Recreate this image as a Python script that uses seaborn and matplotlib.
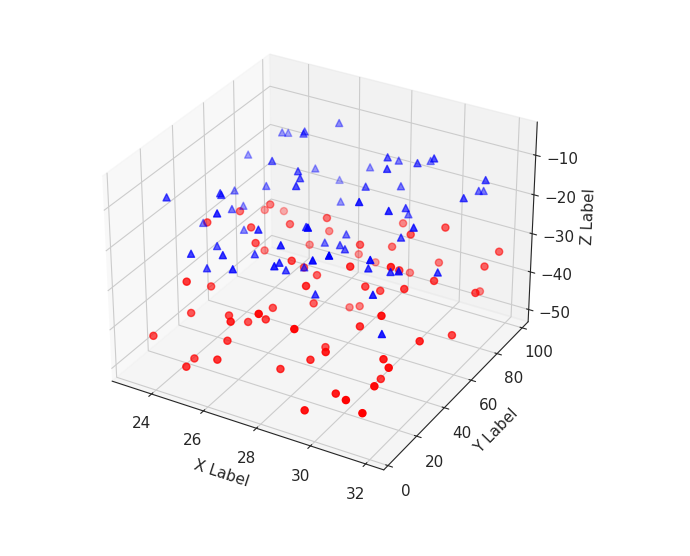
import matplotlib
matplotlib.use("Agg")
import matplotlib.pyplot as plt
import seaborn as sns

sns.set_style("white")
plt.rcParams["font.size"] = 11

red_x = [23.2,24.1,25.3,26.8,27.5,28.9,29.4,30.7,31.5,31.9,23.8,24.6,25.9,26.2,27.9,28.3,29.8,30.1,31.2,32.0,
         23.5,24.9,25.1,26.5,27.2,28.6,29.1,30.4,31.7,23.9,24.3,25.6,26.9,27.4,28.1,29.6,30.9,31.1,24.7,25.4,
         26.1,27.7,28.8,29.3,30.2,31.4,23.4,24.4,25.8,26.3,27.1,28.4,29.9,30.6,31.8,23.7,25.2,26.6,27.8,28.2,
         29.5,30.3,31.3,24.2,25.7,26.4,27.3,28.7,29.2,30.8]
red_y = [12,35,68,90,22,55,78,8,44,95,60,15,85,40,70,28,92,50,18,75,
         82,5,48,30,95,12,62,38,88,25,72,20,58,10,42,66,30,98,52,80,
         14,36,90,6,58,24,45,66,10,76,52,84,16,34,62,92,28,46,72,96,
         40,86,8,18,32,58,74,48,22,68]
red_z = [-45,-38,-30,-42,-48,-35,-28,-44,-40,-33,-27,-49,-36,-41,-31,-46,-39,-26,-43,-37,
         -34,-47,-29,-40,-45,-32,-38,-50,-35,-42,-28,-44,-37,-30,-48,-33,-41,-46,-27,-39,
         -36,-31,-43,-49,-34,-40,-26,-38,-45,-29,-42,-35,-47,-32,-44,-37,-41,-30,-48,-33,
         -39,-27,-46,-31,-43,-36,-50,-28,-40,-34]

blue_x = [23.4,24.2,25.5,26.1,27.8,28.4,29.7,30.2,31.6,32.0,23.9,24.8,25.2,26.7,27.3,28.9,29.2,30.8,31.1,24.5,
          25.8,26.4,27.6,28.1,29.5,30.5,31.4,23.6,24.0,25.0,26.9,27.0,28.6,29.9,30.3,31.8,23.1,24.6,25.6,26.3,
          27.5,28.2,29.0,30.6,31.3,24.3,25.4,26.0,27.9,28.8,29.4,30.0,31.7,23.3,24.9,25.9,26.5,27.2,28.5,29.8,
          30.9,31.2,23.7,24.4,25.3,26.6,27.4,28.0,29.3,30.4]
blue_y = [20,48,75,10,62,88,35,55,15,80,92,28,58,6,42,70,96,24,46,66,
          12,84,38,52,8,72,30,60,86,18,44,94,26,64,4,50,78,34,98,56,
          22,68,14,40,90,54,76,32,16,82,60,36,70,44,10,92,26,58,48,74,
          20,96,64,38,86,52,28,10,78,42]
blue_z = [-12,-22,-8,-18,-26,-14,-6,-20,-28,-10,-16,-24,-11,-19,-29,-7,-15,-23,-13,-21,
          -9,-27,-17,-25,-12,-5,-18,-22,-14,-26,-10,-20,-28,-16,-8,-24,-19,-13,-27,-11,
          -21,-15,-7,-23,-17,-29,-9,-25,-14,-18,-6,-22,-12,-26,-20,-10,-16,-28,-24,-8,
          -13,-19,-27,-15,-21,-11,-25,-17,-23,-9]

fig = plt.figure(figsize=(6.9, 5.56), dpi=100)
ax = fig.add_axes([0.0, 0.10, 0.92, 0.87], projection="3d")
ax.scatter(red_x, red_y, red_z, c="red", marker="o", s=26)
ax.scatter(blue_x, blue_y, blue_z, c="blue", marker="^", s=26)
ax.set_xlabel("X Label")
ax.set_ylabel("Y Label")
ax.set_zlabel("Z Label")
fig.savefig("out.png", dpi=100)
